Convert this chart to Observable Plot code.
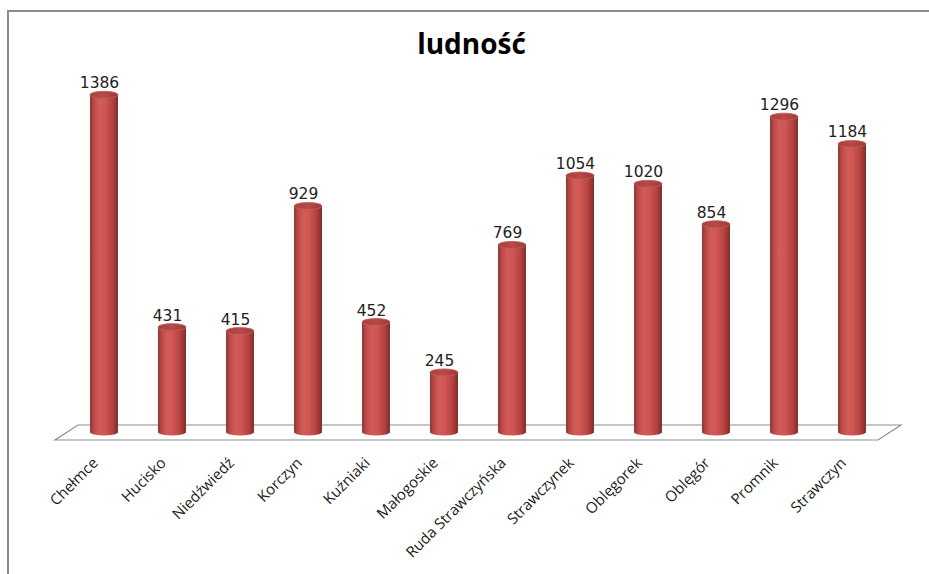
<!DOCTYPE html>
<html>
<head>
<meta charset="utf-8">
<script src="https://cdn.jsdelivr.net/npm/d3@7"></script>
<script src="https://cdn.jsdelivr.net/npm/@observablehq/plot@0.6"></script>
<style>
  html, body { margin: 0; padding: 0; background: #fff; }
  #wrap { position: relative; width: 929px; height: 574px; overflow: hidden; }
  #border { position: absolute; left: 7px; top: 10px; right: -10px; bottom: -10px;
            border-top: 2px solid #8a8a8a; border-left: 2px solid #8a8a8a; pointer-events: none; }
  svg { display: block; }
</style>
</head>
<body>
<div id="wrap"><div id="chart"></div><div id="border"></div></div>
<script>
const categories = ["Chełmce", "Hucisko", "Niedźwiedź", "Korczyn", "Kuźniaki", "Małogoskie",
  "Ruda Strawczyńska", "Strawczynek", "Oblęgorek", "Oblęgór", "Promnik", "Strawczyn"];
const values = [1386, 431, 415, 929, 452, 245, 769, 1054, 1020, 854, 1296, 1184];
const titleText = "ludność";

const data = categories.map((name, i) => ({name, value: values[i]}));

// decorative 3D floor drawn from the frame dimensions and y scale
function floor(index, scales, vals, dim) {
  const y0 = scales.y(0);
  const x0 = dim.marginLeft, x1 = dim.width - dim.marginRight;
  const d = 23, front = y0 + 8, back = y0 - 7;
  const p = document.createElementNS("http://www.w3.org/2000/svg", "path");
  p.setAttribute("d", `M${x0},${front}L${x1 - d},${front}L${x1},${back}L${x0 + d},${back}Z`);
  p.setAttribute("fill", "none");
  p.setAttribute("stroke", "#8e8e8e");
  p.setAttribute("stroke-width", "1.2");
  return p;
}

const chart = Plot.plot({
  width: 929,
  height: 574,
  marginLeft: 55,
  marginRight: 28,
  marginTop: 67,
  marginBottom: 142,
  x: {domain: categories, paddingInner: 0.59, paddingOuter: 0.475, axis: null},
  y: {domain: [0, 1500], axis: null},
  style: {background: "transparent", overflow: "visible"},
  marks: [
    floor,
    Plot.barY(data, {x: "name", y1: 0, y2: 0, insetTop: -3.5, insetBottom: -3.5, rx: 14, ry: 3.5, fill: "url(#bodyGrad)"}),
    Plot.barY(data, {x: "name", y1: 0, y2: "value", fill: "url(#bodyGrad)"}),
    Plot.barY(data, {x: "name", y1: "value", y2: "value", insetTop: -3.5, insetBottom: -3.5, rx: 14, ry: 3.5,
      fill: "url(#capGrad)", stroke: "#c65a57", strokeWidth: 0.8}),
    Plot.text(data, {x: "name", y: "value", text: d => String(d.value), lineAnchor: "bottom", dx: -5, dy: -7,
      fontFamily: "DejaVu Sans", fontSize: 15.5, fill: "#222"}),
    Plot.text(data, {x: "name", frameAnchor: "bottom", text: "name", rotate: -45, textAnchor: "end",
      lineAnchor: "middle", dx: -9, dy: 28, fontFamily: "Open Sans", fontSize: 15, fill: "#1a1a1a"}),
    Plot.text([titleText], {frameAnchor: "top", text: d => d, lineAnchor: "bottom", dx: -7, dy: -14,
      fontFamily: "Open Sans", fontWeight: "bold", fontSize: 28, fill: "#000"})
  ]
});

// gradients for the cylinder shading
const ns = "http://www.w3.org/2000/svg";
const defs = document.createElementNS(ns, "defs");
defs.innerHTML = `
  <linearGradient id="bodyGrad" x1="0" x2="1" y1="0" y2="0">
    <stop offset="0" stop-color="#8e3634"/>
    <stop offset="0.12" stop-color="#b84846"/>
    <stop offset="0.32" stop-color="#d35b58"/>
    <stop offset="0.55" stop-color="#cd5552"/>
    <stop offset="0.8" stop-color="#b5423f"/>
    <stop offset="1" stop-color="#7e2e2c"/>
  </linearGradient>
  <linearGradient id="capGrad" x1="0" x2="1" y1="0" y2="0">
    <stop offset="0" stop-color="#a7403e"/>
    <stop offset="0.5" stop-color="#b64a47"/>
    <stop offset="1" stop-color="#9a3a38"/>
  </linearGradient>`;
chart.insertBefore(defs, chart.firstChild);
document.getElementById("chart").appendChild(chart);
</script>
</body>
</html>
